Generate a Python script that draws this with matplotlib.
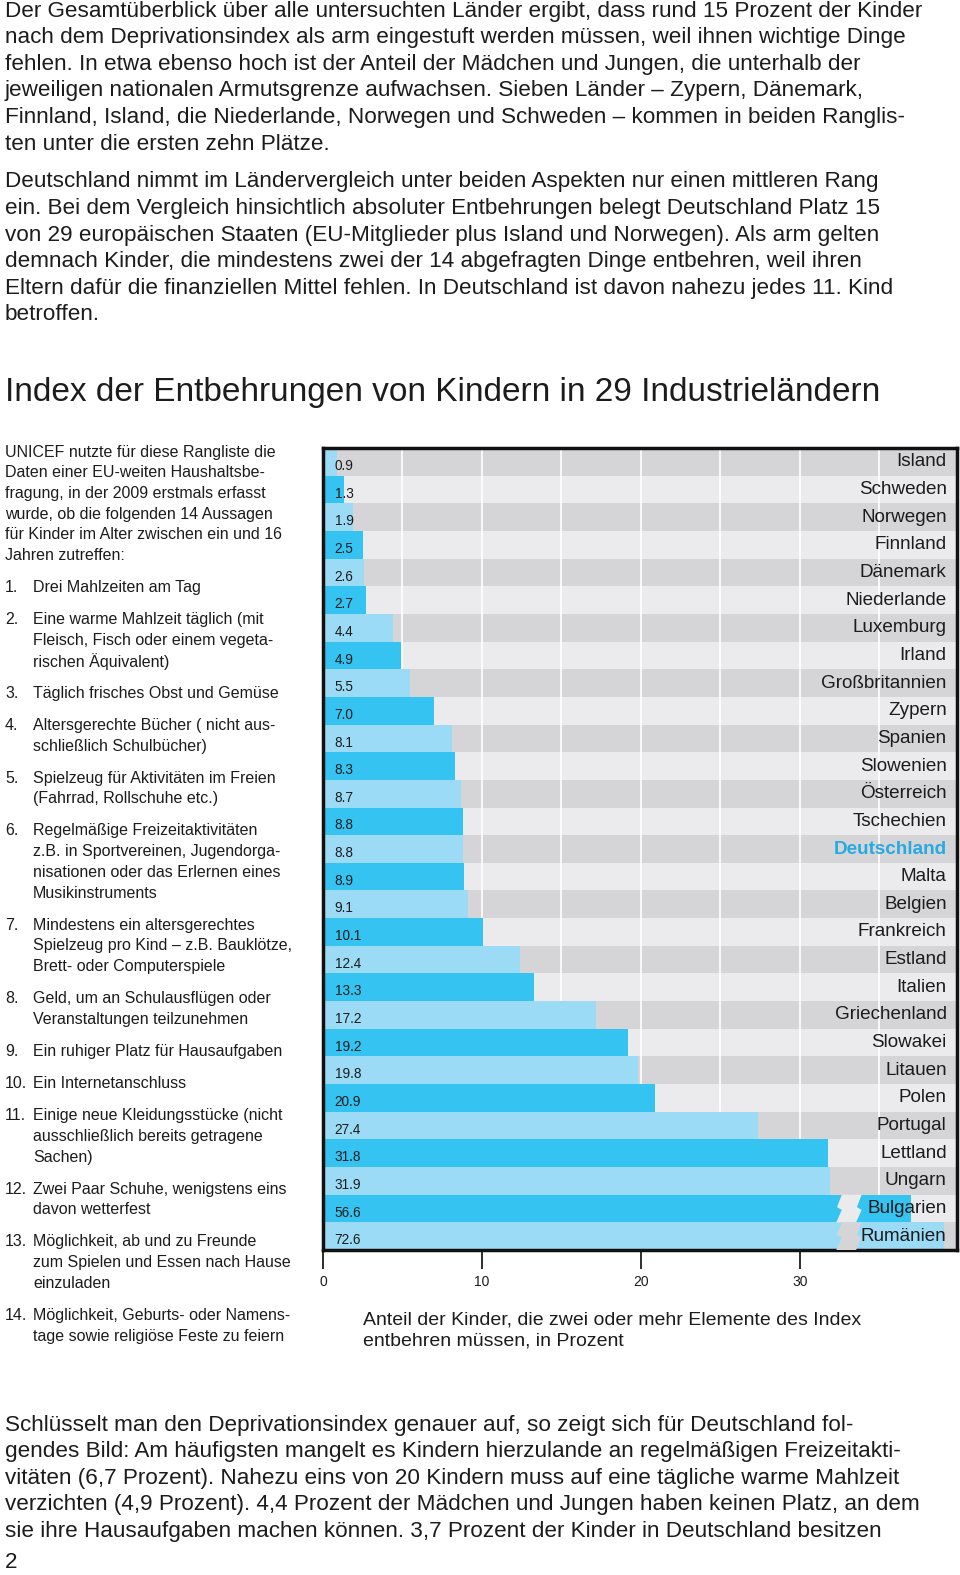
import numpy as np
import matplotlib
matplotlib.use("Agg")
import matplotlib.pyplot as plt

# Daten: Anteil der Kinder mit 2+ Entbehrungen (Prozent)
countries = ["Island", "Schweden", "Norwegen", "Finnland", "Dänemark", "Niederlande",
             "Luxemburg", "Irland", "Großbritannien", "Zypern", "Spanien", "Slowenien",
             "Österreich", "Tschechien", "Deutschland", "Malta", "Belgien", "Frankreich",
             "Estland", "Italien", "Griechenland", "Slowakei", "Litauen", "Polen",
             "Portugal", "Lettland", "Ungarn", "Bulgarien", "Rumänien"]
values = [0.9, 1.3, 1.9, 2.5, 2.6, 2.7, 4.4, 4.9, 5.5, 7.0, 8.1, 8.3, 8.7, 8.8, 8.8,
          8.9, 9.1, 10.1, 12.4, 13.3, 17.2, 19.2, 19.8, 20.9, 27.4, 31.8, 31.9, 56.6, 72.6]
xticks = [0, 10, 20, 30]

intro = [
    "Der Gesamtüberblick über alle untersuchten Länder ergibt, dass rund 15 Prozent der Kinder",
    "nach dem Deprivationsindex als arm eingestuft werden müssen, weil ihnen wichtige Dinge",
    "fehlen. In etwa ebenso hoch ist der Anteil der Mädchen und Jungen, die unterhalb der",
    "jeweiligen nationalen Armutsgrenze aufwachsen. Sieben Länder – Zypern, Dänemark,",
    "Finnland, Island, die Niederlande, Norwegen und Schweden – kommen in beiden Ranglis-",
    "ten unter die ersten zehn Plätze.",
]
intro2 = [
    "Deutschland nimmt im Ländervergleich unter beiden Aspekten nur einen mittleren Rang",
    "ein. Bei dem Vergleich hinsichtlich absoluter Entbehrungen belegt Deutschland Platz 15",
    "von 29 europäischen Staaten (EU-Mitglieder plus Island und Norwegen). Als arm gelten",
    "demnach Kinder, die mindestens zwei der 14 abgefragten Dinge entbehren, weil ihren",
    "Eltern dafür die finanziellen Mittel fehlen. In Deutschland ist davon nahezu jedes 11. Kind",
    "betroffen.",
]
outro = [
    "Schlüsselt man den Deprivationsindex genauer auf, so zeigt sich für Deutschland fol-",
    "gendes Bild: Am häufigsten mangelt es Kindern hierzulande an regelmäßigen Freizeitakti-",
    "vitäten (6,7 Prozent). Nahezu eins von 20 Kindern muss auf eine tägliche warme Mahlzeit",
    "verzichten (4,9 Prozent). 4,4 Prozent der Mädchen und Jungen haben keinen Platz, an dem",
    "sie ihre Hausaufgaben machen können. 3,7 Prozent der Kinder in Deutschland besitzen",
]
side_intro = [
    "UNICEF nutzte für diese Rangliste die",
    "Daten einer EU-weiten Haushaltsbe-",
    "fragung, in der 2009 erstmals erfasst",
    "wurde, ob die folgenden 14 Aussagen",
    "für Kinder im Alter zwischen ein und 16",
    "Jahren zutreffen:",
]
items = [
    ["Drei Mahlzeiten am Tag"],
    ["Eine warme Mahlzeit täglich (mit", "Fleisch, Fisch oder einem vegeta-", "rischen Äquivalent)"],
    ["Täglich frisches Obst und Gemüse"],
    ["Altersgerechte Bücher ( nicht aus-", "schließlich Schulbücher)"],
    ["Spielzeug für Aktivitäten im Freien", "(Fahrrad, Rollschuhe etc.)"],
    ["Regelmäßige Freizeitaktivitäten", "z.B. in Sportvereinen, Jugendorga-",
     "nisationen oder das Erlernen eines", "Musikinstruments"],
    ["Mindestens ein altersgerechtes", "Spielzeug pro Kind – z.B. Bauklötze,", "Brett- oder Computerspiele"],
    ["Geld, um an Schulausflügen oder", "Veranstaltungen teilzunehmen"],
    ["Ein ruhiger Platz für Hausaufgaben"],
    ["Ein Internetanschluss"],
    ["Einige neue Kleidungsstücke (nicht", "ausschließlich bereits getragene", "Sachen)"],
    ["Zwei Paar Schuhe, wenigstens eins", "davon wetterfest"],
    ["Möglichkeit, ab und zu Freunde", "zum Spielen und Essen nach Hause", "einzuladen"],
    ["Möglichkeit, Geburts- oder Namens-", "tage sowie religiöse Feste zu feiern"],
]

W, H = 960, 1575
DARK_BLUE = "#35c4f1"
LIGHT_BLUE = "#9cdbf6"
ROW_DARK = "#d5d5d7"
ROW_LIGHT = "#ebebed"
TXT = "#1c1c1c"

plt.rcParams['font.family'] = ['Liberation Sans', 'DejaVu Sans']

fig = plt.figure(figsize=(W / 100, H / 100), dpi=100)
fig.patch.set_facecolor("white")


def ftext(x, y, s, **kw):
    fig.text(x / W, 1 - y / H, s, va="center", ha=kw.pop("ha", "left"), color=kw.pop("color", TXT), **kw)


# Fliesstext
BODY = 16.2
for i, line in enumerate(intro):
    ftext(5, 11 + i * 26.6, line, fontsize=BODY)
for i, line in enumerate(intro2):
    ftext(5, 182 + i * 26.6, line, fontsize=BODY)
for i, line in enumerate(outro):
    ftext(5, 1425 + i * 26.6, line, fontsize=BODY)
ftext(5, 1563, "2", fontsize=BODY)

ftext(5, 392, "Index der Entbehrungen von Kindern in 29 Industrieländern", fontsize=24)

# linke Spalte
SIDE = 11.5
y = 452
for line in side_intro:
    ftext(5, y, line, fontsize=SIDE)
    y += 20.7
y += 11.4
for n, lines in enumerate(items, start=1):
    ftext(5, y, "%d." % n, fontsize=SIDE)
    for line in lines:
        ftext(33, y, line, fontsize=SIDE)
        y += 20.7
    y += 11.4

ftext(363, 1320, "Anteil der Kinder, die zwei oder mehr Elemente des Index", fontsize=14)
ftext(363, 1341, "entbehren müssen, in Prozent", fontsize=14)

# Diagramm
ax = fig.add_axes([323 / W, 1 - 1250 / H, 634 / W, 802 / H])
n = len(countries)
ypos = np.arange(n)


def shown(v):
    # Balken ueber 35 werden gestaucht (Achsenbruch)
    return v if v < 35 else 29.7 + 0.129 * v


for i in ypos:
    ax.axhspan(i - 0.5, i + 0.5, color=ROW_DARK if i % 2 == 0 else ROW_LIGHT, lw=0, zorder=0)
for gx in range(5, 40, 5):
    ax.axvline(gx, color="white", lw=1.2, zorder=1)

lengths = [shown(v) for v in values]
colors = [LIGHT_BLUE if i % 2 == 0 else DARK_BLUE for i in ypos]
ax.barh(ypos, lengths, height=1.0, color=colors, lw=0, zorder=2)

# Bruchstellen
for i, v in enumerate(values):
    if v >= 35:
        bg = ROW_DARK if i % 2 == 0 else ROW_LIGHT
        ys = [i - 0.5, i - 0.05, i + 0.05, i + 0.5]
        xs_l = [32.65, 32.35, 32.65, 32.3]
        xs_r = [x + 1.25 for x in xs_l]
        poly = list(zip(xs_l, ys)) + list(zip(xs_r[::-1], ys[::-1]))
        ax.add_patch(plt.Polygon(poly, closed=True, facecolor=bg, edgecolor="none", zorder=3))

for i, (v, c) in enumerate(zip(values, countries)):
    ax.text(0.73, i + 0.15, "%.1f" % v, va="center", ha="left", fontsize=9.8, color=TXT, zorder=4)
    if c == "Deutschland":
        ax.text(39.25, i, c, va="center", ha="right", fontsize=13.6, color="#27a9e1",
                fontweight="bold", zorder=4)
    else:
        ax.text(39.25, i, c, va="center", ha="right", fontsize=13.6, color=TXT, zorder=4)

ax.set_xlim(0, 39.9)
ax.set_ylim(n - 0.5, -0.5)
ax.set_xticks(xticks)
ax.set_xticklabels([str(t) for t in xticks])
ax.set_yticks([])
ax.tick_params(axis="x", direction="out", length=14, width=1.3, labelsize=10, pad=4, colors=TXT)
for sp in ax.spines.values():
    sp.set_linewidth(2.5)
    sp.set_color("#111111")

fig.savefig("out.png", dpi=100)
